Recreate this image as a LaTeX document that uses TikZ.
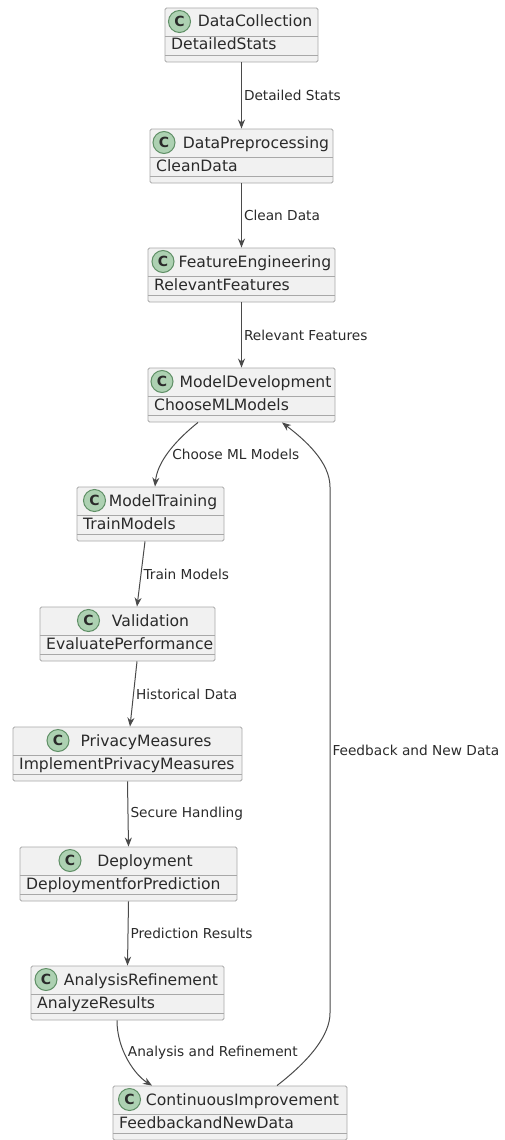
\documentclass[tikz,border=0pt]{standalone}
\usepackage{fontspec}
\setmainfont{DejaVu Sans}
\usetikzlibrary{arrows.meta}

\definecolor{boxfill}{HTML}{F1F1F1}
\definecolor{boxline}{HTML}{A8A8A8}
\definecolor{iconfill}{HTML}{ADD1B2}
\definecolor{iconline}{HTML}{5F8F66}
\definecolor{flowline}{HTML}{4A4A4A}
\definecolor{txt}{HTML}{2A2A2A}

\tikzset{
  classbox/.style={draw=boxline, fill=boxfill, line width=0.9pt, rounded corners=1.5pt,
    minimum width=#1, minimum height=54pt, inner sep=0pt},
  sepline/.style={draw=boxline, line width=0.9pt},
  ctitle/.style={font=\fontsize{15.6}{18}\selectfont, text=txt, inner sep=0pt},
  cfieldtext/.style={font=\fontsize{15.6}{18}\selectfont, text=txt, inner sep=0pt},
  cicon/.style={circle, draw=iconline, fill=iconfill, line width=1pt, minimum size=22pt,
    inner sep=0pt, text=txt, font=\fontsize{14}{14}\bfseries\selectfont},
  flow/.style={->, draw=flowline, line width=1pt},
  lbl/.style={font=\fontsize{13.7}{16}\selectfont, text=txt, anchor=west, inner sep=2pt},
}

\begin{document}
\begin{tikzpicture}[x=1pt, y=-1pt, >={Stealth[length=9pt,width=7pt]}]
\useasboundingbox (0,0) rectangle (504,1140);

% classes: name/centre x/centre y/width/icon x/title x/title/field
\foreach \n/\cx/\cy/\w/\ix/\tx/\ctext/\cfield in {
  dc/241.5/35/153/179.5/255/DataCollection/DetailedStats,
  dp/241.5/156/183/164/256/DataPreprocessing/CleanData,
  fe/241.5/275/187/163/255/FeatureEngineering/RelevantFeatures,
  md/241.5/395/187/162/255.5/ModelDevelopment/ChooseMLModels,
  mt/150.5/514/147/94.5/163/ModelTraining/TrainModels,
  va/127.5/634/175/88.5/150.5/Validation/EvaluatePerformance,
  pm/127.5/754/229/58/146/PrivacyMeasures/ImplementPrivacyMeasures,
  de/128.5/874/217/70/145/Deployment/DeploymentforPrediction,
  ar/127.5/993/193/46/141/AnalysisRefinement/AnalyzeResults,
  ci/230/1113/234/129.5/242.5/ContinuousImprovement/FeedbackandNewData}
{
  \node[classbox=\w pt] (\n) at (\cx,\cy) {};
  \draw[sepline] ([yshift=-28.5pt]\n.north west) -- ([yshift=-28.5pt]\n.north east)
                 ([yshift=-48pt]\n.north west) -- ([yshift=-48pt]\n.north east);
  \node[cicon] (\n-icon) at (\ix,\cy-13.5) {C};
  \node[ctitle, anchor=base] (\n-name) at (\tx,\cy-8) {\ctext};
  \node[cfieldtext, anchor=base west] (\n-field) at (\cx-\w/2+6,\cy+15) {\cfield};
}

% flow
\draw[flow] (dc.south) -- node[lbl]{Detailed Stats} (dp.north);
\draw[flow] (dp.south) -- node[lbl]{Clean Data} (fe.north);
\draw[flow] (fe.south) -- node[lbl]{Relevant Features} (md.north);
\draw[flow] ([xshift=-43.5pt]md.south) .. controls (170,445) and (157,465) ..
  node[lbl, pos=0.5, xshift=3pt]{Choose ML Models} ([xshift=4.5pt]mt.north);
\draw[flow] ([xshift=-5.5pt]mt.south) -- node[lbl]{Train Models} ([xshift=9.5pt]va.north);
\draw[flow] ([xshift=9.5pt]va.south) -- node[lbl]{Historical Data} ([xshift=2.5pt]pm.north);
\draw[flow] (pm.south) -- node[lbl]{Secure Handling} (de.north);
\draw[flow] (de.south) -- node[lbl]{Prediction Results} (ar.north);
\draw[flow] ([xshift=-10.5pt]ar.south) .. controls (117,1050) and (135,1075) ..
  node[lbl, pos=0.4, xshift=1pt]{Analysis and Refinement} ([xshift=-78pt]ci.north);

% feedback loop
\coordinate (fbA) at (330,1013);
\coordinate (fbB) at (330,487);
\draw[flow] ([xshift=47pt]ci.north) .. controls (310,1060) and (330,1035) .. (fbA)
  -- node[lbl]{Feedback and New Data} (fbB)
  .. controls (330,462) and (305,440) .. ([xshift=40.5pt]md.south);

\end{tikzpicture}
\end{document}
